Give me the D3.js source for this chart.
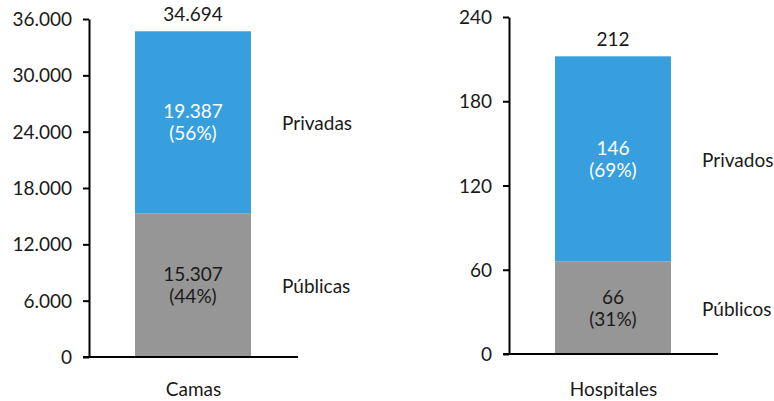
<!DOCTYPE html>
<html>
<head>
<meta charset="utf-8">
<script src="https://cdn.jsdelivr.net/npm/d3@7"></script>
<style>
  body { margin: 0; background: #fff; }
  svg text { font-family: Lato, "Open Sans", sans-serif; fill: #1a1a1a; }
</style>
</head>
<body>
<svg width="774" height="401"></svg>
<script>
// Chart data
const categories = ["Camas", "Hospitales"];
const publicValues = [15307, 66];
const privateValues = [19387, 146];
const publicLabels = ["Públicas", "Públicos"];
const privateLabels = ["Privadas", "Privados"];
const axisMax = [36000, 240];
const axisStep = [6000, 60];

const colors = { pub: "#969696", priv: "#389fdf" };
const fontSize = 19;
const fmt = d3.formatLocale({ decimal: ",", thousands: ".", grouping: [3], currency: ["", ""] }).format(",d");

const svg = d3.select("svg");

// panel layout: axis x, top of scale, bottom of scale
const panels = [
    { x: 89, top: 19, bottom: 357 },
    { x: 509, top: 17, bottom: 354 }
];

panels.forEach((p, i) => {
    const g = svg.append("g");
    const y = d3.scaleLinear().domain([0, axisMax[i]]).range([p.bottom, p.top]);
    const x = d3.scaleBand().domain([categories[i]]).range([p.x, p.x + 209]).paddingInner(0).paddingOuter(0.28);

    const total = publicValues[i] + privateValues[i];
    const segs = [
        { key: "pub", y0: 0, y1: publicValues[i], v: publicValues[i], color: colors.pub, text: "#1a1a1a", label: publicLabels[i] },
        { key: "priv", y0: publicValues[i], y1: total, v: privateValues[i], color: colors.priv, text: "#ffffff", label: privateLabels[i] }
    ];

    const bx = p.x + 46, bw = 116;

    g.selectAll("rect.seg")
        .data(segs)
        .join("rect")
        .attr("class", "seg")
        .attr("x", bx)
        .attr("width", bw)
        .attr("y", d => y(d.y1))
        .attr("height", d => y(d.y0) - y(d.y1))
        .attr("fill", d => d.color);

    // value + percent labels inside the segments
    segs.forEach(d => {
        const mid = (y(d.y0) + y(d.y1)) / 2;
        const t = g.append("text")
            .attr("text-anchor", "middle")
            .attr("font-size", fontSize)
            .style("fill", d.text);
        t.append("tspan").attr("x", bx + bw / 2).attr("y", mid - 4).text(fmt(d.v));
        t.append("tspan").attr("x", bx + bw / 2).attr("y", mid + 18)
            .text("(" + Math.round(d.v / total * 100) + "%)");

        g.append("text")
            .attr("x", bx + bw + 31)
            .attr("y", mid + 8)
            .attr("font-size", fontSize)
            .text(d.label);
    });

    // total on top
    g.append("text")
        .attr("x", bx + bw / 2)
        .attr("y", y(total) - 10)
        .attr("text-anchor", "middle")
        .attr("font-size", fontSize)
        .text(fmt(total));

    // y axis
    const ticks = d3.range(0, axisMax[i] + 1, axisStep[i]);
    const ax = g.append("g")
        .attr("transform", `translate(${p.x},0)`)
        .call(d3.axisLeft(y).tickValues(ticks).tickFormat(fmt).tickSize(6).tickSizeOuter(0).tickPadding(11));
    ax.select(".domain").attr("stroke", "#000").attr("stroke-width", 2);
    ax.selectAll(".tick line").attr("stroke", "#000").attr("stroke-width", 2);
    ax.selectAll(".tick text").attr("font-size", fontSize).attr("font-family", "Lato, sans-serif").attr("fill", "#1a1a1a").attr("dy", "0.35em");

    // baseline
    g.append("line")
        .attr("x1", p.x - 6).attr("x2", p.x + 209)
        .attr("y1", p.bottom).attr("y2", p.bottom)
        .attr("stroke", "#000").attr("stroke-width", 2);

    // category label
    g.append("text")
        .attr("x", x(categories[i]) + x.bandwidth() / 2)
        .attr("y", 396)
        .attr("text-anchor", "middle")
        .attr("font-size", fontSize)
        .text(categories[i]);
});
</script>
</body>
</html>
